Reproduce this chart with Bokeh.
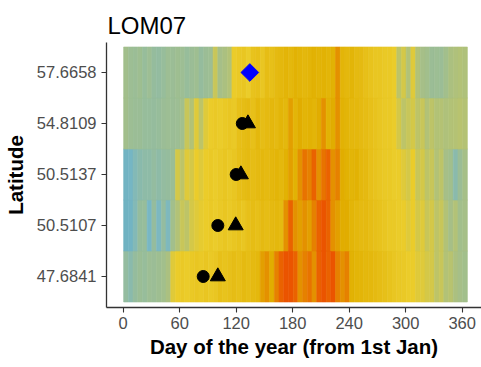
from bokeh.plotting import figure
from bokeh.models import ColumnDataSource, LinearColorMapper, Range1d, FixedTicker
from bokeh.transform import transform
from bokeh.embed import file_html
from bokeh.resources import INLINE
import math

# ---------------- data ----------------
title_text = "LOM07"
x_label = "Day of the year (from 1st Jan)"
y_label = "Latitude"
latitudes = ["47.6841", "50.5107", "50.5137", "54.8109", "57.6658"]  # bottom -> top
x_ticks = [0, 60, 120, 180, 240, 300, 360]
bin_days = 5  # each value below covers 5 consecutive days (1-5, 6-10, ..., 361-365)

val_576658 = [6.8, 6.6, 6.5, 6.7, 6.4, 6.6, 6.3, 6.2, 6.4, 6.6, 6.5, 6.7, 6.6, 6.4, 6.5, 6.7, 6.3, 6.5, 6.6,
              8.5, 7.0, 7.2, 7.5,
              10, 10.5, 11, 10, 11.5, 12, 11, 12.5, 12,
              13, 13.5, 14, 13.5, 14.5, 14, 13.5, 14, 14.5, 14, 14.5, 14, 14.5,
              16, 14, 13.5, 14, 13, 13,
              12, 11.5, 11, 11, 10.5, 10.5, 10,
              8, 9, 7.5, 9.5, 7.5,
              7, 6.8, 6.5, 6.6, 6.5, 6.8,
              7.2, 7.4, 7.5, 7.4]
val_548109 = [6.8, 6.6, 6.5, 6.5, 6.4, 6.4, 6.3, 6.4, 6.5, 6.6, 6.5, 6.6, 6.8,
              8.5, 7.5, 9.5, 8, 9.5,
              10, 10.5, 10, 10.5, 11, 10.5,
              12, 12.5, 13, 12, 13.5, 12.5, 13, 13.5, 13, 14, 13.5,
              15.5, 14, 15, 14, 14.5, 14, 15, 16, 14.5, 15, 16,
              14.5, 14, 13.5, 13.5, 13, 12.5, 12, 11.5, 11, 10.5, 10.5, 10,
              9, 8, 8.5, 9, 8, 8.5, 7.5, 8,
              7.5, 7.6, 7.4, 7.5, 7.6, 7.8, 7.6]
val_505137 = [4.5, 4.8, 5.5,
              5.8, 6, 6, 6.2, 6, 6.2, 6.3, 6.5,
              9, 8, 9.5, 9, 10, 9.5,
              10, 10.5, 10, 10.5, 11, 10.5, 11,
              12, 12.5, 13, 12.5, 13, 13.5, 13, 13.5, 14, 13.5, 14.5,
              15.5, 14.5, 16, 17, 16.5, 17.5, 16, 17, 17.5, 16, 16.5,
              15, 14.5, 14, 14.5, 13.5, 13,
              12, 11.5, 11, 10.5, 10.5, 10, 10,
              9.5, 9, 10, 8.5, 9, 8, 8.5, 7.5, 8,
              7, 6.8, 5.8, 6.5, 7]
val_505107 = [4.3, 4.6, 5.5,
              6.3, 6.4,
              5, 6.3, 5.2, 6.2, 5.3,
              6.8, 7.5, 8.5, 8, 9, 9.5, 9.8,
              10, 10.5, 10, 10.5, 11, 10.5, 11, 11.5, 11, 12, 12.5, 12, 13, 12.5, 13, 13.5, 13,
              16, 17.5, 16, 15.5, 16, 15.5, 16.5, 17.5, 18, 17.5, 16, 15.5, 15, 15,
              14, 13.5, 13, 13, 12.5, 12, 11.5, 11, 10.5, 10.5, 10,
              10, 9.5, 10, 9, 9.5, 8.5, 9, 8, 8.5, 7.5, 7, 7.5, 6.8, 7]
val_476841 = [6.2, 5.8, 6.3, 6.5, 6.4, 6.6, 6.5, 6.7, 6.8, 7.2,
              9.5, 10, 10.5, 10, 10.5, 11, 10.5, 11, 10.5, 11, 12, 11.5, 12, 12.5, 12, 13, 12.5, 13, 13.5,
              15.5, 16, 15, 16.5,
              17.5, 18, 18, 17.5,
              16, 16.5, 17, 16,
              17.5, 18, 17.5, 18,
              16.5, 16, 16.5,
              14.5, 14, 14, 13.5, 13.5, 13, 12.5, 12, 11.5, 11, 10.5,
              10.5, 10, 10, 9.5, 9.5, 9, 9,
              8, 8.5, 7.5, 7.8, 7.2, 7, 6.8]
row_values = [val_476841, val_505107, val_505137, val_548109, val_576658]

diamond_lat = ["57.6658"]
diamond_day = [134.5]
circle_lat = ["54.8109", "50.5137", "50.5107", "47.6841"]
circle_day = [126.5, 120, 100.5, 85]
triangle_lat = ["54.8109", "50.5137", "50.5107", "47.6841"]
triangle_day = [132.5, 125, 119.5, 100.5]

# ---------------- palette (Zissou1 gradient) ----------------
stops = ["#3B9AB2", "#78B7C5", "#EBCC2A", "#E1AF00", "#F21A00"]
def hex2rgb(h):
    h = h.lstrip("#")
    return [int(h[i:i + 2], 16) for i in (0, 2, 4)]
palette = []
n = 256
for k in range(n):
    t = k / (n - 1) * (len(stops) - 1)
    i = min(int(t), len(stops) - 2)
    f = t - i
    a, b = hex2rgb(stops[i]), hex2rgb(stops[i + 1])
    c = [round(a[j] + (b[j] - a[j]) * f) for j in range(3)]
    palette.append("#%02x%02x%02x" % tuple(c))
mapper = LinearColorMapper(palette=palette, low=0, high=20)

# ---------------- tables ----------------
ypos = {lat: i + 1 for i, lat in enumerate(latitudes)}
left, right, bottom, top, vals = [], [], [], [], []
for lat, vs in zip(latitudes, row_values):
    for b, v in enumerate(vs):
        left.append(b * bin_days + 0.5)
        right.append(min((b + 1) * bin_days, 365) + 0.5)
        bottom.append(ypos[lat] - 0.5)
        top.append(ypos[lat] + 0.5)
        vals.append(v)
tiles = ColumnDataSource(dict(left=left, right=right, bottom=bottom, top=top, val=vals))

p = figure(width=481, height=366, output_backend="svg", toolbar_location=None,
           x_range=Range1d(-17.7, 380.5), y_range=Range1d(0.392, 5.588),
           min_border_left=106, min_border_right=0, min_border_top=42, min_border_bottom=59)
p.background_fill_color = "white"
p.border_fill_color = "white"
p.outline_line_color = None
p.grid.visible = False

p.quad(left="left", right="right", bottom="bottom", top="top", source=tiles,
       fill_color=transform("val", mapper), line_color=transform("val", mapper), line_width=0.6)

p.scatter(x=circle_day, y=[ypos[l] for l in circle_lat], marker="circle", size=12,
          fill_color="black", line_color="black")
p.scatter(x=triangle_day, y=[ypos[l] for l in triangle_lat], marker="triangle", size=15,
          fill_color="black", line_color="black")
p.scatter(x=diamond_day, y=[ypos[l] for l in diamond_lat], marker="square", size=12.5,
          angle=math.pi / 4, fill_color="#0000FF", line_color="#0000FF")

# title
p.title.text = title_text
p.title.text_font = "Liberation Sans"
p.title.text_font_size = "24px"
p.title.text_font_style = "normal"
p.title.text_color = "black"
p.title.offset = 1
p.title.standoff = 8

# axes
for ax in (p.xaxis[0], p.yaxis[0]):
    ax.axis_line_color = "#333333"
    ax.axis_line_width = 1.3
    ax.major_tick_line_color = "#333333"
    ax.major_tick_line_width = 1.1
    ax.major_tick_out = 5
    ax.major_tick_in = 0
    ax.minor_tick_line_color = None
    ax.major_label_text_font = "Liberation Sans"
    ax.major_label_text_font_size = "16.5px"
    ax.major_label_text_color = "#4d4d4d"
    ax.axis_label_text_font = "Liberation Sans"
    ax.axis_label_text_font_size = "20.5px"
    ax.axis_label_text_font_style = "bold"
    ax.axis_label_text_color = "black"

p.xaxis.ticker = FixedTicker(ticks=x_ticks)
p.xaxis.axis_label = x_label
p.xaxis.major_label_standoff = 4
p.xaxis.axis_label_standoff = 3

p.yaxis.ticker = FixedTicker(ticks=[ypos[l] for l in latitudes])
p.yaxis.major_label_overrides = {ypos[l]: l for l in latitudes}
p.yaxis.axis_label = y_label
p.yaxis.major_label_standoff = 5
p.yaxis.axis_label_standoff = 7

open("out.html", "w").write(file_html(p, INLINE))
